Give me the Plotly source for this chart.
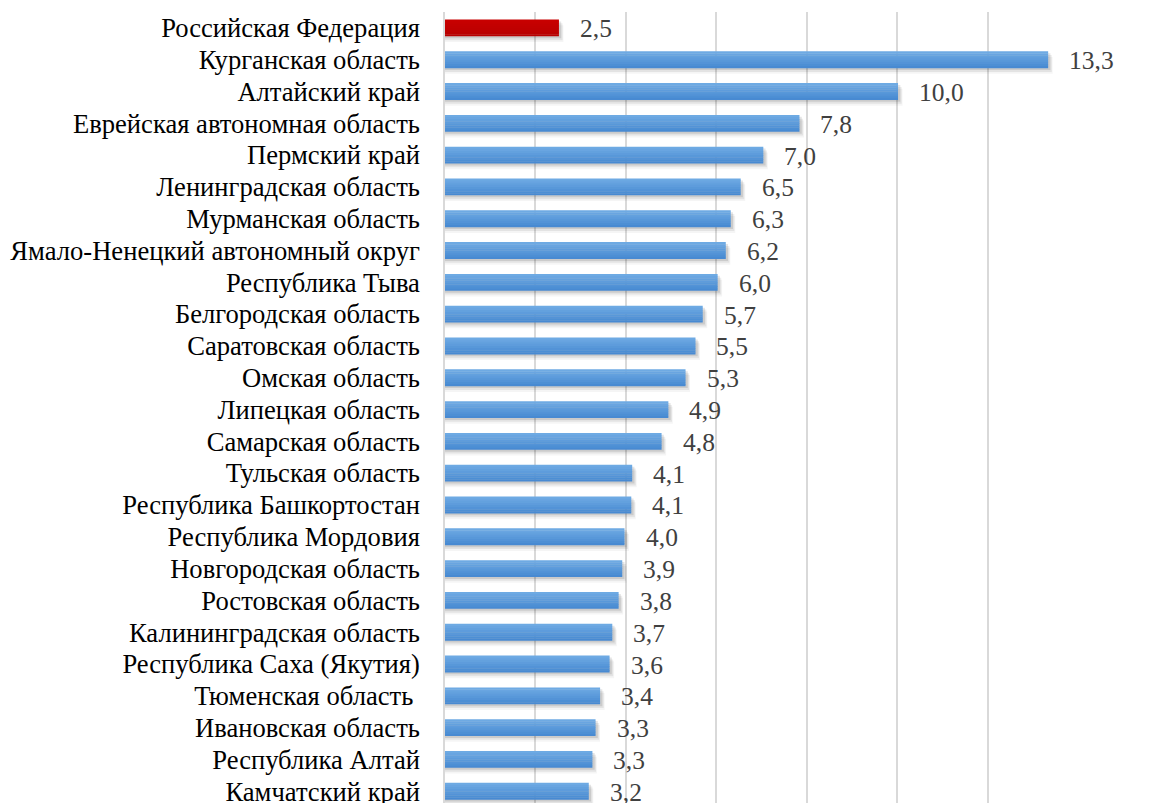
import plotly.graph_objects as go

categories = [
    "Российская Федерация", "Курганская область", "Алтайский край",
    "Еврейская автономная область", "Пермский край", "Ленинградская область",
    "Мурманская область", "Ямало-Ненецкий автономный округ", "Республика Тыва",
    "Белгородская область", "Саратовская область", "Омская область",
    "Липецкая область", "Самарская область", "Тульская область",
    "Республика Башкортостан", "Республика Мордовия", "Новгородская область",
    "Ростовская область", "Калининградская область", "Республика Саха (Якутия)",
    "Тюменская область\u00a0", "Ивановская область", "Республика Алтай",
    "Камчатский край",
]
values = [2.52, 13.34, 10.02, 7.84, 7.04, 6.54, 6.32, 6.21, 6.03, 5.70, 5.54,
          5.32, 4.94, 4.79, 4.14, 4.12, 3.97, 3.92, 3.84, 3.70, 3.64, 3.43,
          3.33, 3.26, 3.18]
labels = [f"{v:.1f}".replace(".", ",") for v in values]

BAR_W = 0.53
FONT = "Liberation Serif, Times New Roman, serif"

fig = go.Figure()

# drop shadow layers
for dy, dx, a in [(0.18, 0.10, 0.04), (0.12, 0.08, 0.07), (0.06, 0.05, 0.10)]:
    fig.add_trace(go.Bar(
        y=categories, x=[v + dx for v in values], orientation="h",
        width=BAR_W, offset=-BAR_W / 2 + dy,
        marker=dict(color=f"rgba(0,0,0,{a})", line=dict(width=0)),
        hoverinfo="skip", showlegend=False,
    ))

# gradient stripes
N = 8
top = (0x6E, 0xAA, 0xE3)
bot = (0x48, 0x8A, 0xD2)
rtop = (0xC8, 0x00, 0x00)
rbot = (0xB8, 0x00, 0x00)
for i in range(N):
    t = i / (N - 1)
    c = tuple(round(top[k] + (bot[k] - top[k]) * t) for k in range(3))
    rc = tuple(round(rtop[k] + (rbot[k] - rtop[k]) * t) for k in range(3))
    colors = [f"rgb{rc}"] + [f"rgb{c}"] * (len(values) - 1)
    sw = BAR_W / N
    fig.add_trace(go.Bar(
        y=categories, x=values, orientation="h",
        width=sw * 1.15 if i < N - 1 else sw, offset=-BAR_W / 2 + i * sw,
        marker=dict(color=colors, line=dict(width=0)),
        hoverinfo="skip", showlegend=False,
    ))

for cat, v, lab in zip(categories, values, labels):
    fig.add_annotation(
        x=v, y=cat, text=lab, showarrow=False, xanchor="left", yanchor="middle",
        xshift=19, yshift=-1,
        font=dict(family=FONT, size=25.5, color="#404040"),
    )

# page body has an 8px margin, so the figure is 8px smaller and offsets shifted
fig.update_layout(
    width=1148, height=795,
    margin=dict(l=437, r=78, t=4, b=0, autoexpand=False),
    barmode="overlay",
    plot_bgcolor="white", paper_bgcolor="white",
    showlegend=False,
    font=dict(family=FONT),
    xaxis=dict(range=[0, 14], dtick=2, showgrid=True, gridcolor="#d9d9d9",
               gridwidth=1.5, showticklabels=False, zeroline=False,
               showline=False, fixedrange=True, automargin=False),
    yaxis=dict(type="category", range=[24.37, -0.5], showgrid=False,
               tickmode="array", tickvals=categories, ticktext=categories,
               showline=True, linecolor="#d9d9d9", linewidth=1.5,
               ticks="", ticklabelstandoff=18, automargin=False,
               tickfont=dict(family=FONT, size=26.6, color="black"),
               fixedrange=True),
)

fig.write_html("out.html")
